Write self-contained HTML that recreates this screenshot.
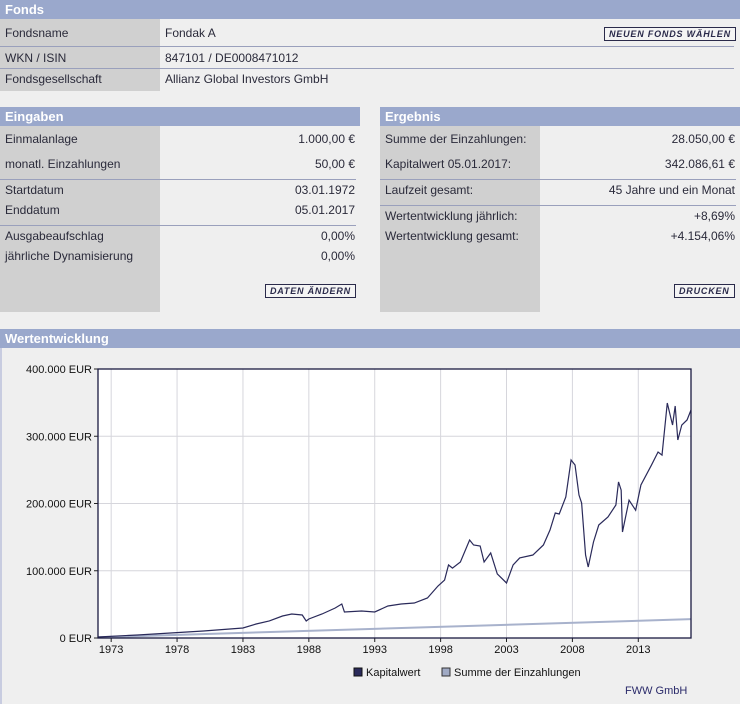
<!DOCTYPE html>
<html><head><meta charset="utf-8"><style>
body{margin:0;width:740px;height:704px;background:#efefef;font-family:"Liberation Sans",sans-serif;font-size:12px;color:#2a2a3a;position:relative;overflow:hidden}
.a{position:absolute}
.hd{position:absolute;background:#9aa8cc;color:#fff;font-weight:bold;font-size:13px;height:19px;line-height:19px;padding-left:5px;box-sizing:border-box}
.lc{position:absolute;background:#d0d0d0}
.t{position:absolute;white-space:nowrap}
.r{text-align:right}
.ln{position:absolute;height:1px;background:#9aa0bc}
.btn{position:absolute;border:1px solid #2a2a4a;background:#f4f4f4;font-size:9px;font-weight:bold;font-style:italic;color:#2a2a4a;height:12px;line-height:12px;padding:0 4px;letter-spacing:.8px}
</style></head><body>
<div class="hd" style="left:0;top:0;width:740px">Fonds</div>
<div class="lc" style="left:0;top:19px;width:160px;height:72px"></div>
<div class="t" style="left:5px;top:26px">Fondsname</div>
<div class="t" style="left:165px;top:26px">Fondak A</div>
<div class="btn" style="left:604px;top:27px">NEUEN FONDS WÄHLEN</div>
<div class="ln" style="left:0;top:46px;width:734px"></div>
<div class="t" style="left:5px;top:51px">WKN / ISIN</div>
<div class="t" style="left:165px;top:51px">847101 / DE0008471012</div>
<div class="ln" style="left:0;top:68px;width:734px"></div>
<div class="t" style="left:5px;top:72px">Fondsgesellschaft</div>
<div class="t" style="left:165px;top:72px">Allianz Global Investors GmbH</div>

<div class="hd" style="left:0;top:107px;width:360px">Eingaben</div>
<div class="lc" style="left:0;top:126px;width:160px;height:186px"></div>
<div class="t" style="left:5px;top:132px">Einmalanlage</div>
<div class="t r" style="right:385px;top:132px">1.000,00 €</div>
<div class="t" style="left:5px;top:157px">monatl. Einzahlungen</div>
<div class="t r" style="right:385px;top:157px">50,00 €</div>
<div class="ln" style="left:0;top:179px;width:356px"></div>
<div class="t" style="left:5px;top:183px">Startdatum</div>
<div class="t r" style="right:385px;top:183px">03.01.1972</div>
<div class="t" style="left:5px;top:203px">Enddatum</div>
<div class="t r" style="right:385px;top:203px">05.01.2017</div>
<div class="ln" style="left:0;top:225px;width:356px"></div>
<div class="t" style="left:5px;top:229px">Ausgabeaufschlag</div>
<div class="t r" style="right:385px;top:229px">0,00%</div>
<div class="t" style="left:5px;top:249px">jährliche Dynamisierung</div>
<div class="t r" style="right:385px;top:249px">0,00%</div>
<div class="btn" style="left:265px;top:284px">DATEN ÄNDERN</div>

<div class="hd" style="left:380px;top:107px;width:360px">Ergebnis</div>
<div class="lc" style="left:380px;top:126px;width:160px;height:186px"></div>
<div class="t" style="left:385px;top:132px">Summe der Einzahlungen:</div>
<div class="t r" style="right:5px;top:132px">28.050,00 €</div>
<div class="t" style="left:385px;top:157px">Kapitalwert 05.01.2017:</div>
<div class="t r" style="right:5px;top:157px">342.086,61 €</div>
<div class="ln" style="left:380px;top:179px;width:356px"></div>
<div class="t" style="left:385px;top:183px">Laufzeit gesamt:</div>
<div class="t r" style="right:5px;top:183px">45 Jahre und ein Monat</div>
<div class="ln" style="left:380px;top:205px;width:356px"></div>
<div class="t" style="left:385px;top:209px">Wertentwicklung jährlich:</div>
<div class="t r" style="right:5px;top:209px">+8,69%</div>
<div class="t" style="left:385px;top:229px">Wertentwicklung gesamt:</div>
<div class="t r" style="right:5px;top:229px">+4.154,06%</div>
<div class="btn" style="left:674px;top:284px">DRUCKEN</div>

<div class="hd" style="left:0;top:329px;width:740px">Wertentwicklung</div>
<div class="a" style="left:0;top:348px;width:2px;height:356px;background:#c8cce0"></div>
<svg class="a" style="left:0;top:0" width="740" height="704" id="chart"></svg>
<script>
const years=[1972,1975,1980,1983,1984,1985,1986,1986.7,1987.5,1987.8,1988,1989,1990,1990.5,1990.7,1992,1993,1994,1995,1996,1997,1997.8,1998.3,1998.6,1998.9,1999.5,2000.2,2000.5,2001,2001.3,2001.8,2002.3,2003.0,2003.5,2004,2005,2005.8,2006.3,2006.7,2007,2007.5,2007.9,2008.2,2008.5,2008.7,2009.0,2009.2,2009.6,2010,2010.7,2011.3,2011.5,2011.7,2011.8,2012.3,2012.8,2013.2,2014,2014.5,2014.8,2015.2,2015.6,2015.8,2016.0,2016.3,2016.7,2017.0];
const kapitalwert=[1.5,4.5,10.4,14.9,20.8,25.3,32.7,35.7,34.2,25.3,28.3,35.7,44.6,50.6,38.7,40.1,38.7,47.6,50.6,52,59.5,77.3,86.2,108.6,104,113,145.7,138.3,136.8,113,126.4,95.2,81.8,108.6,119,123.4,138.3,160.6,185.9,184.4,209.7,264.7,257.2,212.6,200.7,123.4,105.6,142.8,168,180,197.8,232,220,157.6,205,190,227.5,257.2,276.6,272,349.4,316.7,345,294.4,316.7,324.2,339];
const sumYears=[1972.0,2017.0];
const sumValues=[1.0,28.05];
const yTicks=[0,100,200,300,400];
const yTickLabels=["0 EUR","100.000 EUR","200.000 EUR","300.000 EUR","400.000 EUR"];
const xTicks=[1973,1978,1983,1988,1993,1998,2003,2008,2013];

const svg=document.getElementById('chart');const NS='http://www.w3.org/2000/svg';
const L=98,R=691,T=369,B=638;
const sx=y=>L+(y-1972)/(2017-1972)*(R-L);
const sy=v=>B-v/400*(B-T);
function mk(tag,at){const e=document.createElementNS(NS,tag);for(const k in at)e.setAttribute(k,at[k]);svg.appendChild(e);return e;}
const bg=mk('rect',{x:L,y:T,width:R-L,height:B-T,fill:'#fff'});


xTicks.forEach(t=>{const g=mk('line',{x1:sx(t),x2:sx(t),y1:T,y2:B+4,stroke:'#d6d6dc'});


mk('line',{x1:sx(t),x2:sx(t),y1:B,y2:B+4,stroke:'#222'});
const tx=mk('text',{x:sx(t),y:B+15,'text-anchor':'middle','font-size':'11',fill:'#111'});tx.textContent=t;

});
yTicks.forEach((t,i)=>{const g=mk('line',{x1:L,x2:R,y1:sy(t),y2:sy(t),stroke:'#d6d6dc'});


mk('line',{x1:L-4,x2:L,y1:sy(t),y2:sy(t),stroke:'#222'});
const tx=mk('text',{x:L-6,y:sy(t)+4,'text-anchor':'end','font-size':'11',fill:'#111'});tx.textContent=yTickLabels[i];

});
const sl=mk('polyline',{points:sumYears.map((y,i)=>sx(y)+','+sy(sumValues[i])).join(' '),fill:'none',stroke:'#a8b2cc','stroke-width':2});


const kl=mk('polyline',{points:years.map((y,i)=>sx(y)+','+sy(kapitalwert[i])).join(' '),fill:'none',stroke:'#2a2a5a','stroke-width':1.2});


const fr=mk('rect',{x:L,y:T,width:R-L,height:B-T,fill:'none',stroke:'#1a1a40','stroke-width':1.3});


const l1=mk('rect',{x:354,y:668,width:8,height:8,fill:'#2a2a5a',stroke:'#111'});


const lt1=mk('text',{x:366,y:676,'font-size':'11',fill:'#111'});lt1.textContent='Kapitalwert';


const l2=mk('rect',{x:442,y:668,width:8,height:8,fill:'#a0aac4',stroke:'#333'});


const lt2=mk('text',{x:454,y:676,'font-size':'11',fill:'#111'});lt2.textContent='Summe der Einzahlungen';


const cr=mk('text',{x:625,y:694,'font-size':'11',fill:'#2a2a6a'});cr.textContent='FWW GmbH';


</script>
</body></html>
